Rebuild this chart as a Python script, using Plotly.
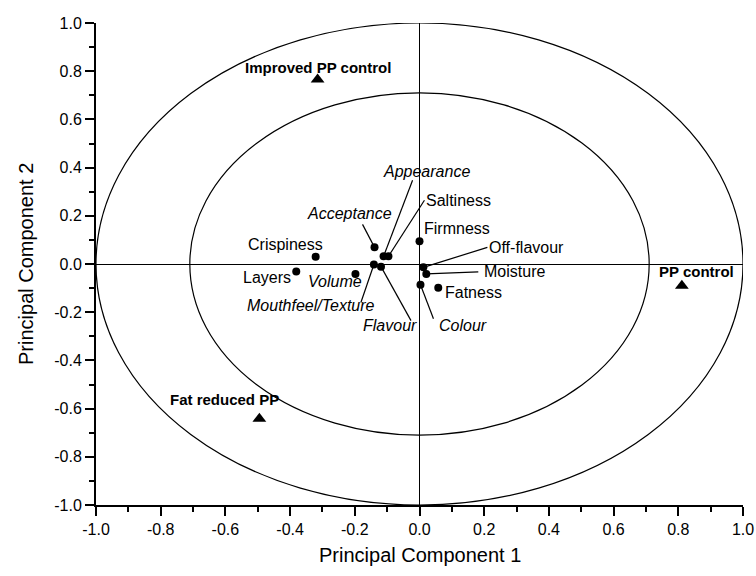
import plotly.graph_objects as go

# sensory attributes (loadings)
attributes = [
    "Crispiness", "Acceptance", "Appearance", "Saltiness", "Firmness",
    "Mouthfeel/Texture", "Flavour", "Off-flavour", "Moisture", "Colour",
    "Fatness", "Layers", "Volume",
]
attr_pc1 = [-0.321, -0.139, -0.111, -0.096, 0.000, -0.141, -0.119, 0.012, 0.021, 0.003, 0.058, -0.381, -0.198]
attr_pc2 = [0.030, 0.069, 0.032, 0.032, 0.094, -0.002, -0.011, -0.014, -0.041, -0.086, -0.099, -0.031, -0.041]

# products (scores)
products = ["Improved PP control", "Fat reduced PP", "PP control"]
prod_pc1 = [-0.315, -0.495, 0.811]
prod_pc2 = [0.766, -0.642, -0.090]

circle_radii = [1.0, 0.71]

tick_values = [-1.0, -0.8, -0.6, -0.4, -0.2, 0.0, 0.2, 0.4, 0.6, 0.8, 1.0]
tick_labels = ["-1.0", "-0.8", "-0.6", "-0.4", "-0.2", "0.0", "0.2", "0.4", "0.6", "0.8", "1.0"]

# label placement in pixels: text offset (dx, dy) and optional leader end, y down
ITALIC = {"Acceptance", "Appearance", "Volume", "Mouthfeel/Texture", "Flavour", "Colour"}
LABEL_POS = {
    "Crispiness": ((-30, -12), None),
    "Acceptance": ((-25, -34), (-12, -23)),
    "Appearance": ((43, -85), (29, -76)),
    "Saltiness": ((70, -56), (36, -56)),
    "Firmness": ((37, -13), None),
    "Mouthfeel/Texture": ((-63, 41), (-13, 38)),
    "Flavour": ((9, 59), (30, 54)),
    "Off-flavour": ((103, -20), (64, -20)),
    "Moisture": ((88, -2), (52, -2)),
    "Colour": ((43, 41), (13, 34)),
    "Fatness": ((35, 5), None),
    "Layers": ((-29, 6), None),
    "Volume": ((-20, 8), None),
}
PROD_POS = {
    "Improved PP control": (0, -12),
    "Fat reduced PP": (-35, -19),
    "PP control": (15, -14),
}

FONT = "Liberation Sans, Arial, sans-serif"
BLACK = "#000000"

fig = go.Figure()

for r in circle_radii:
    fig.add_shape(
        type="circle", xref="x", yref="y",
        x0=-r, x1=r, y0=-r, y1=r,
        line=dict(color=BLACK, width=1.2), layer="below",
    )

fig.add_trace(
    go.Scatter(
        x=attr_pc1, y=attr_pc2, mode="markers",
        marker=dict(symbol="circle", size=8, color=BLACK),
        cliponaxis=False, showlegend=False,
    )
)
fig.add_trace(
    go.Scatter(
        x=prod_pc1, y=prod_pc2, mode="markers",
        marker=dict(symbol="triangle-up", size=12, color=BLACK),
        cliponaxis=False, showlegend=False,
    )
)

for name, x, y in zip(attributes, attr_pc1, attr_pc2):
    (dx, dy), lead = LABEL_POS[name]
    label = "<i>" + name + "</i>" if name in ITALIC else name
    fig.add_annotation(
        x=x, y=y, xref="x", yref="y", text=label, showarrow=False,
        xshift=dx, yshift=-dy, xanchor="center", yanchor="middle",
        font=dict(family=FONT, size=16, color=BLACK),
    )
    if lead is not None:
        lx, ly = lead
        fig.add_shape(
            type="line", xref="x", yref="y",
            xsizemode="pixel", ysizemode="pixel",
            xanchor=x, yanchor=y, x0=0, x1=lx, y0=0, y1=-ly,
            line=dict(color=BLACK, width=1.2),
        )

for name, x, y in zip(products, prod_pc1, prod_pc2):
    dx, dy = PROD_POS[name]
    fig.add_annotation(
        x=x, y=y, xref="x", yref="y", text="<b>" + name + "</b>", showarrow=False,
        xshift=dx, yshift=-dy, xanchor="center", yanchor="middle",
        font=dict(family=FONT, size=15, color=BLACK),
    )

# axis titles
fig.add_annotation(
    x=0.5, y=0, xref="paper", yref="paper", text="Principal Component 1",
    showarrow=False, yshift=-50, xanchor="center", yanchor="middle",
    font=dict(family=FONT, size=20, color=BLACK),
)
fig.add_annotation(
    x=0, y=0.5, xref="paper", yref="paper", text="Principal Component 2",
    showarrow=False, xshift=-70, textangle=-90, xanchor="center", yanchor="middle",
    font=dict(family=FONT, size=20, color=BLACK),
)

axis_common = dict(
    range=[-1.0, 1.0],
    tickmode="array",
    tickvals=tick_values,
    ticktext=tick_labels,
    ticks="outside",
    ticklen=9,
    tickwidth=1.5,
    tickcolor=BLACK,
    minor=dict(ticks="outside", ticklen=5, tickwidth=1.5, tickcolor=BLACK, dtick=0.1, tick0=0, showgrid=False),
    showline=True,
    linewidth=2,
    linecolor=BLACK,
    showgrid=False,
    zeroline=True,
    zerolinecolor=BLACK,
    zerolinewidth=1.2,
    automargin=False,
    tickfont=dict(family=FONT, size=16, color=BLACK),
)

fig.update_xaxes(**axis_common)
fig.update_yaxes(**axis_common)

fig.update_layout(
    width=756,
    height=576,
    margin=dict(l=96, r=13, t=23, b=71),
    plot_bgcolor="white",
    paper_bgcolor="white",
    font=dict(family=FONT, color=BLACK),
    showlegend=False,
)

# drop the browser's default body margin so the figure sits at the page corner
fig.write_html(
    "out.html",
    config={"displayModeBar": False},
    post_script="document.body.style.margin='0';",
)
